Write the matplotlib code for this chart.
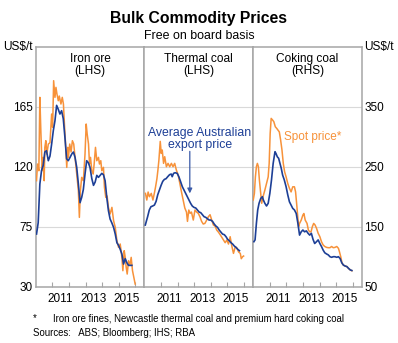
import numpy as np
import matplotlib
matplotlib.use("Agg")
import matplotlib.pyplot as plt

plt.rcParams['font.family'] = ['Liberation Sans', 'DejaVu Sans']

ORANGE = '#f7923a'
BLUE = '#1d3f96'
GREY = '#a6a6a6'
GRID = '#d9d9d9'

# ---- data (decimal years, US$/t) ----
iron_avg_t = [2010.05, 2010.15, 2010.25, 2010.35, 2010.45, 2010.55, 2010.65, 2010.76, 2010.86, 2010.96,
              2011.06, 2011.16, 2011.26, 2011.36, 2011.46, 2011.56, 2011.66, 2011.76, 2011.86, 2011.96,
              2012.07, 2012.17, 2012.27, 2012.37, 2012.47, 2012.57, 2012.67, 2012.77, 2012.87, 2012.97,
              2013.07, 2013.17, 2013.27, 2013.38, 2013.48, 2013.58, 2013.68, 2013.78, 2013.88, 2013.98,
              2014.08, 2014.18, 2014.28, 2014.38, 2014.48, 2014.58, 2014.69, 2014.79, 2014.89, 2014.99,
              2015.09, 2015.19, 2015.29, 2015.39, 2015.49, 2015.59, 2015.69, 2015.79]
iron_avg = [69.5, 78, 107, 117, 121, 131, 132, 124.5, 128, 137,
            147, 154.5, 166, 163, 159.5, 162, 156, 142, 126, 124.5,
            127, 129.5, 131, 127, 119.5, 107, 93, 97, 103, 114.5,
            124.5, 123, 119.5, 111, 106, 108.5, 113.5, 112, 113.5, 115,
            114, 109.5, 97, 87, 80.75, 78, 74.5, 69.5, 63, 61,
            58, 54.5, 47, 51, 48, 46, 46, 46]

iron_spot_t = [2010.05, 2010.11, 2010.19, 2010.25, 2010.31, 2010.39, 2010.45, 2010.51, 2010.55, 2010.61,
               2010.67, 2010.76, 2010.86, 2010.96, 2011.02, 2011.08, 2011.16, 2011.22, 2011.28, 2011.36,
               2011.42, 2011.52, 2011.60, 2011.67, 2011.73, 2011.81, 2011.87, 2011.93, 2011.97, 2012.05,
               2012.13, 2012.21, 2012.29, 2012.37, 2012.43, 2012.51, 2012.57, 2012.63, 2012.69, 2012.77,
               2012.87, 2012.97, 2013.04, 2013.10, 2013.18, 2013.24, 2013.30, 2013.38, 2013.46, 2013.52,
               2013.60, 2013.68, 2013.78, 2013.84, 2013.92, 2013.98, 2014.08, 2014.14, 2014.22, 2014.30,
               2014.38, 2014.48, 2014.59, 2014.69, 2014.79, 2014.89, 2014.99, 2015.09, 2015.19, 2015.25,
               2015.33, 2015.39, 2015.45, 2015.51, 2015.59, 2015.67, 2015.75, 2015.83, 2015.91, 2015.99]
iron_spot = [109.5, 122, 117, 172, 147, 117, 127, 109.5, 134.5, 139.5,
             129.5, 137, 138, 159.5, 149.5, 184.5, 172, 179.5, 174.5, 169.5,
             173, 167, 172, 167, 152, 134.5, 119.5, 134.5, 127, 137,
             131, 139.5, 137, 127, 119.5, 109.5, 102, 82, 102, 112,
             109.5, 129.5, 152, 144.5, 137, 122, 127, 117, 114.5, 122,
             134.5, 124.5, 127, 122, 124.5, 117, 119.5, 104.5, 97, 98,
             89.5, 84.5, 89.5, 79.5, 74.5, 64.5, 59.5, 62, 52, 42,
             57, 52, 44.5, 39.5, 49.5, 46, 52, 42, 37, 32]

thermal_avg_t = [2010.05, 2010.19, 2010.29, 2010.39, 2010.49, 2010.60, 2010.70, 2010.80, 2010.90, 2011.00,
                 2011.10, 2011.20, 2011.30, 2011.40, 2011.51, 2011.61, 2011.67, 2011.75, 2011.85, 2011.97,
                 2012.07, 2012.17, 2012.28, 2012.38, 2012.48, 2012.58, 2012.68, 2012.78, 2012.88, 2012.98,
                 2013.09, 2013.19, 2013.29, 2013.39, 2013.49, 2013.59, 2013.69, 2013.79, 2013.89, 2013.99,
                 2014.10, 2014.20, 2014.30, 2014.40, 2014.50, 2014.60, 2014.70, 2014.81, 2014.91, 2015.01,
                 2015.11, 2015.21, 2015.31, 2015.41, 2015.51, 2015.62, 2015.72]
thermal_avg = [76.25, 82.5, 87.5, 90, 90.5, 91.25, 94, 99, 102.5, 106,
               109, 110.5, 111, 112.5, 114, 114.5, 112.5, 115, 115.5, 115,
               112.5, 109, 105, 102.5, 100, 97.5, 95, 92.5, 90.5, 89.5,
               89, 87.5, 86, 85.5, 84, 82.5, 82, 81, 80, 80,
               79, 77, 75.5, 74.5, 72.5, 71, 69.5, 69, 67.5, 65.5,
               64.5, 63, 62, 60.5, 59.5, 58, 57]

thermal_spot_t = [2010.06, 2010.14, 2010.22, 2010.30, 2010.41, 2010.51, 2010.61, 2010.67, 2010.75, 2010.81,
                  2010.87, 2010.95, 2011.01, 2011.07, 2011.15, 2011.22, 2011.32, 2011.42, 2011.52, 2011.62,
                  2011.72, 2011.82, 2011.92, 2012.03, 2012.13, 2012.23, 2012.33, 2012.43, 2012.53, 2012.59,
                  2012.67, 2012.75, 2012.83, 2012.94, 2013.04, 2013.14, 2013.24, 2013.34, 2013.44, 2013.54,
                  2013.64, 2013.75, 2013.85, 2013.95, 2014.05, 2014.15, 2014.25, 2014.35, 2014.45, 2014.56,
                  2014.66, 2014.76, 2014.86, 2014.96, 2015.06, 2015.16, 2015.26, 2015.36, 2015.47, 2015.57,
                  2015.67, 2015.77, 2015.83, 2015.91, 2015.97]
thermal_spot = [100, 95, 101, 97.5, 100, 95, 101, 105, 111, 117.5,
                125, 139, 130, 132.5, 122.5, 127.5, 120, 122.5, 120, 122.5,
                120, 122.5, 117.5, 113.75, 107.5, 101, 95, 89, 86, 79,
                87.5, 85, 86, 80, 87.5, 86, 85, 82.5, 79, 77,
                77.5, 80, 82.5, 84, 80, 76.25, 75.5, 72.5, 71, 69,
                67, 65, 63, 65, 62, 67.5, 60.5, 55, 60, 59,
                56, 55, 51, 52.5, 53]

coking_avg_t = [2010.04, 2010.11, 2010.19, 2010.27, 2010.35, 2010.45, 2010.55, 2010.61, 2010.70, 2010.80,
                2010.90, 2011.00, 2011.10, 2011.20, 2011.31, 2011.37, 2011.45, 2011.53, 2011.61, 2011.69,
                2011.77, 2011.87, 2011.98, 2012.08, 2012.18, 2012.28, 2012.38, 2012.48, 2012.59, 2012.69,
                2012.79, 2012.89, 2012.99, 2013.09, 2013.20, 2013.30, 2013.40, 2013.50, 2013.60, 2013.70,
                2013.81, 2013.91, 2014.01, 2014.11, 2014.21, 2014.31, 2014.42, 2014.52, 2014.62, 2014.72,
                2014.82, 2014.92, 2015.03, 2015.13, 2015.23, 2015.33, 2015.43, 2015.53, 2015.64, 2015.74,
                2015.84, 2015.94]
coking_avg = [125, 128, 155.5, 178, 189, 197, 200, 194.5, 189, 184.5,
              189, 205.5, 228, 255.5, 275, 272, 266.5, 264, 255.5, 247,
              236, 228, 216.5, 203, 191.5, 186, 180.5, 178, 172, 155.5,
              136, 141.5, 144.5, 141.5, 143, 139, 136, 139, 129, 122,
              125, 128, 122, 117, 111, 106.5, 104.5, 103, 100, 99,
              100, 100, 99, 100, 97, 90, 86, 84.5, 83.5, 80.5,
              78, 77]

coking_spot_t = [2010.00, 2010.07, 2010.13, 2010.19, 2010.25, 2010.31, 2010.37, 2010.45, 2010.51, 2010.59,
                 2010.70, 2010.80, 2010.90, 2010.96, 2011.02, 2011.08, 2011.16, 2011.24, 2011.33, 2011.41,
                 2011.49, 2011.57, 2011.65, 2011.73, 2011.81, 2011.89, 2011.98, 2012.08, 2012.18, 2012.28,
                 2012.38, 2012.48, 2012.55, 2012.63, 2012.73, 2012.79, 2012.89, 2012.99, 2013.05, 2013.13,
                 2013.24, 2013.32, 2013.40, 2013.48, 2013.56, 2013.64, 2013.72, 2013.81, 2013.91, 2014.01,
                 2014.11, 2014.21, 2014.31, 2014.42, 2014.52, 2014.62, 2014.72, 2014.82, 2014.92, 2015.03,
                 2015.13, 2015.19, 2015.27, 2015.35, 2015.43, 2015.53, 2015.64, 2015.74, 2015.84, 2015.94]
coking_spot = [194.5, 205.5, 233, 250, 255.5, 250, 228, 205.5, 189, 200,
               211, 222, 233, 255.5, 305.5, 330.5, 328, 325, 316.5, 314,
               311, 308, 294.5, 278, 255.5, 241.5, 233, 222, 214, 208,
               216.5, 216.5, 208, 183.5, 150, 155.5, 161, 169.5, 172, 161,
               155.5, 144.5, 141.5, 141.5, 150, 155.5, 153, 147.5, 139, 133.5,
               125, 119.5, 117, 115.5, 115, 115, 117, 115, 115.5, 117,
               114, 108.5, 100, 89, 86, 84.5, 83.5, 80.5, 78, 76.5]

panel_titles = ['Iron ore\n(LHS)', 'Thermal coal\n(LHS)', 'Coking coal\n(RHS)']
lhs_ticks = [30, 75, 120, 165]
rhs_ticks = [50, 150, 250, 350]
year_labels = ['', '2011', '', '2013', '', '2015']

series = [
    (iron_spot_t, iron_spot, iron_avg_t, iron_avg),
    (thermal_spot_t, thermal_spot, thermal_avg_t, thermal_avg),
    (coking_spot_t, coking_spot, coking_avg_t, coking_avg),
]

fig = plt.figure(figsize=(3.98, 3.43), dpi=100)

left, right = 35.7 / 398, 362 / 398
bottom, top = (343 - 286.7) / 343, (343 - 46.7) / 343
w = (right - left) / 3

axes = []
for i in range(3):
    ax = fig.add_axes([left + i * w, bottom, w, top - bottom])
    axes.append(ax)
    st, sv, at, av = series[i]
    ax.plot(st, sv, color=ORANGE, lw=1.1, zorder=3)
    ax.plot(at, av, color=BLUE, lw=1.2, zorder=4)
    ax.set_xlim(2010.0, 2016.55)
    if i < 2:
        ax.set_ylim(30, 210)
        ax.set_yticks(lhs_ticks)
    else:
        ax.set_ylim(50, 450)
        ax.set_yticks(rhs_ticks)
    ax.grid(axis='y', color=GRID, lw=0.8, zorder=0)
    ax.set_axisbelow(True)
    for s in ax.spines.values():
        s.set_color(GREY)
        s.set_linewidth(1.1)
    ax.set_xticks(range(2011, 2017))
    ax.set_xticklabels([])
    ax.set_xticks([y + 0.5 for y in range(2010, 2016)], minor=True)
    ax.set_xticklabels(year_labels, minor=True)
    ax.tick_params(axis='x', which='major', direction='in', length=3.5, width=0.8, color=GREY)
    ax.tick_params(axis='x', which='minor', length=0, labelsize=8.5, pad=4.5)
    ax.tick_params(axis='y', length=0, labelsize=8.5)
    if i == 0:
        ax.tick_params(axis='y', pad=2)
    elif i == 1:
        ax.tick_params(axis='y', labelleft=False)
    else:
        ax.tick_params(axis='y', labelleft=False, labelright=True, pad=1.5)
    ax.text(0.5, 0.975, panel_titles[i], transform=ax.transAxes, ha='center', va='top',
            fontsize=8.6, linespacing=1.0)

# annotations
axes[1].annotate('', xy=(2012.73, 100), xytext=(2012.73, 131.5),
                 arrowprops=dict(arrowstyle='-|>', color='#3a5aa8', lw=0.9,
                                 mutation_scale=7, shrinkA=0, shrinkB=0))
axes[1].text(2013.33, 140.5, 'Average Australian\nexport price', color=BLUE, fontsize=8.8,
             ha='center', va='center', linespacing=1.0, zorder=5)
axes[2].text(2013.6, 300, 'Spot price*', color=ORANGE, fontsize=8.5, ha='center', va='center')

fig.text(0.5, 1 - 18 / 343, 'Bulk Commodity Prices', ha='center', va='center',
         fontsize=11.3, fontweight='bold')
fig.text(0.5, 1 - 36 / 343, 'Free on board basis', ha='center', va='center', fontsize=8.9)
fig.text(3 / 398, 1 - 47 / 343, 'US$/t', ha='left', va='center', fontsize=8.6)
fig.text(364 / 398, 1 - 47 / 343, 'US$/t', ha='left', va='center', fontsize=8.6)

fig.text(35 / 398, 1 - 318.5 / 343, '*', ha='center', va='center', fontsize=6.9)
fig.text(53 / 398, 1 - 318.5 / 343,
         'Iron ore fines, Newcastle thermal coal and premium hard coking coal',
         ha='left', va='center', fontsize=6.9)
fig.text(33 / 398, 1 - 333.5 / 343, 'Sources:   ABS; Bloomberg; IHS; RBA',
         ha='left', va='center', fontsize=6.9)

fig.savefig('out.png', dpi=100)
